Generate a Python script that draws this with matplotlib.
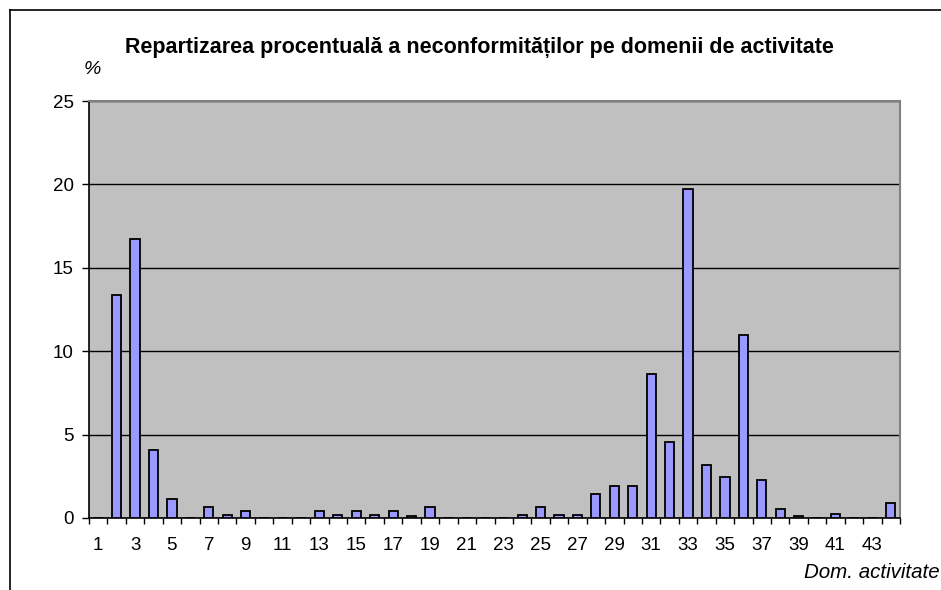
import matplotlib
matplotlib.use("Agg")
import matplotlib.pyplot as plt
from matplotlib.lines import Line2D
import numpy as np

plt.rcParams['font.family'] = ['Liberation Sans', 'DejaVu Sans']

categories = list(range(1, 45))
values = [0, 13.35, 16.75, 4.08, 1.12, 0, 0.68, 0.2, 0.44, 0, 0, 0,
          0.44, 0.2, 0.44, 0.2, 0.44, 0.12, 0.68, 0, 0, 0, 0, 0.2,
          0.68, 0.2, 0.2, 1.46, 1.92, 1.92, 8.61, 4.54, 19.7, 3.16, 2.48, 10.99,
          2.26, 0.56, 0.12, 0, 0.22, 0, 0, 0.9]
tick_labels = [str(i) for i in range(1, 44, 2)]
title = "Repartizarea procentuală a neconformităților pe domenii de activitate"

W, H = 941, 590
fig = plt.figure(figsize=(W / 100, H / 100), dpi=100)
fig.patch.set_facecolor('white')

ax = fig.add_axes([89 / W, 1 - 518 / H, (900 - 89) / W, (518 - 101) / H])
ax.set_facecolor('#C0C0C0')
ax.bar(categories, values, width=0.5, color='#9999FF', edgecolor='black', linewidth=1.3, zorder=3)

ax.set_xlim(0.5, 44.5)
ax.set_ylim(0, 25)
ax.set_yticks([0, 5, 10, 15, 20, 25])
ax.yaxis.grid(True, color='black', linewidth=1.0, zorder=1)
ax.set_axisbelow(True)

ax.set_xticks(np.arange(0.5, 45, 1))
ax.set_xticklabels([])
ax.set_xticks(range(1, 44, 2), minor=True)
ax.set_xticklabels(tick_labels, minor=True)
ax.tick_params(axis='x', which='major', direction='out', length=4.5, width=1, color='black')
ax.tick_params(axis='x', which='minor', length=0, pad=14, labelsize=13.5)
ax.tick_params(axis='y', direction='out', length=5, width=1, labelsize=13.5, pad=6)

for s in ['left', 'bottom']:
    ax.spines[s].set_color('black')
    ax.spines[s].set_linewidth(1.2)
for s in ['top', 'right']:
    ax.spines[s].set_color('#808080')
    ax.spines[s].set_linewidth(1.5)

fig.text(479 / W, 1 - 48 / H, title, ha='center', va='center', fontsize=15.5, fontweight='bold')
fig.text(92 / W, 1 - 69 / H, '%', ha='center', va='center', fontsize=14, style='italic')
fig.text(940 / W, 1 - 572 / H, 'Dom. activitate', ha='right', va='center', fontsize=14.8, style='italic')

# outer frame (left and top only)
fig.add_artist(Line2D([9.5 / W, 9.5 / W], [0, 1 - 9.5 / H], transform=fig.transFigure, color='black', linewidth=1.2))
fig.add_artist(Line2D([9.5 / W, 1], [1 - 9.5 / H, 1 - 9.5 / H], transform=fig.transFigure, color='black', linewidth=1.2))

fig.savefig('out.png', dpi=100)
